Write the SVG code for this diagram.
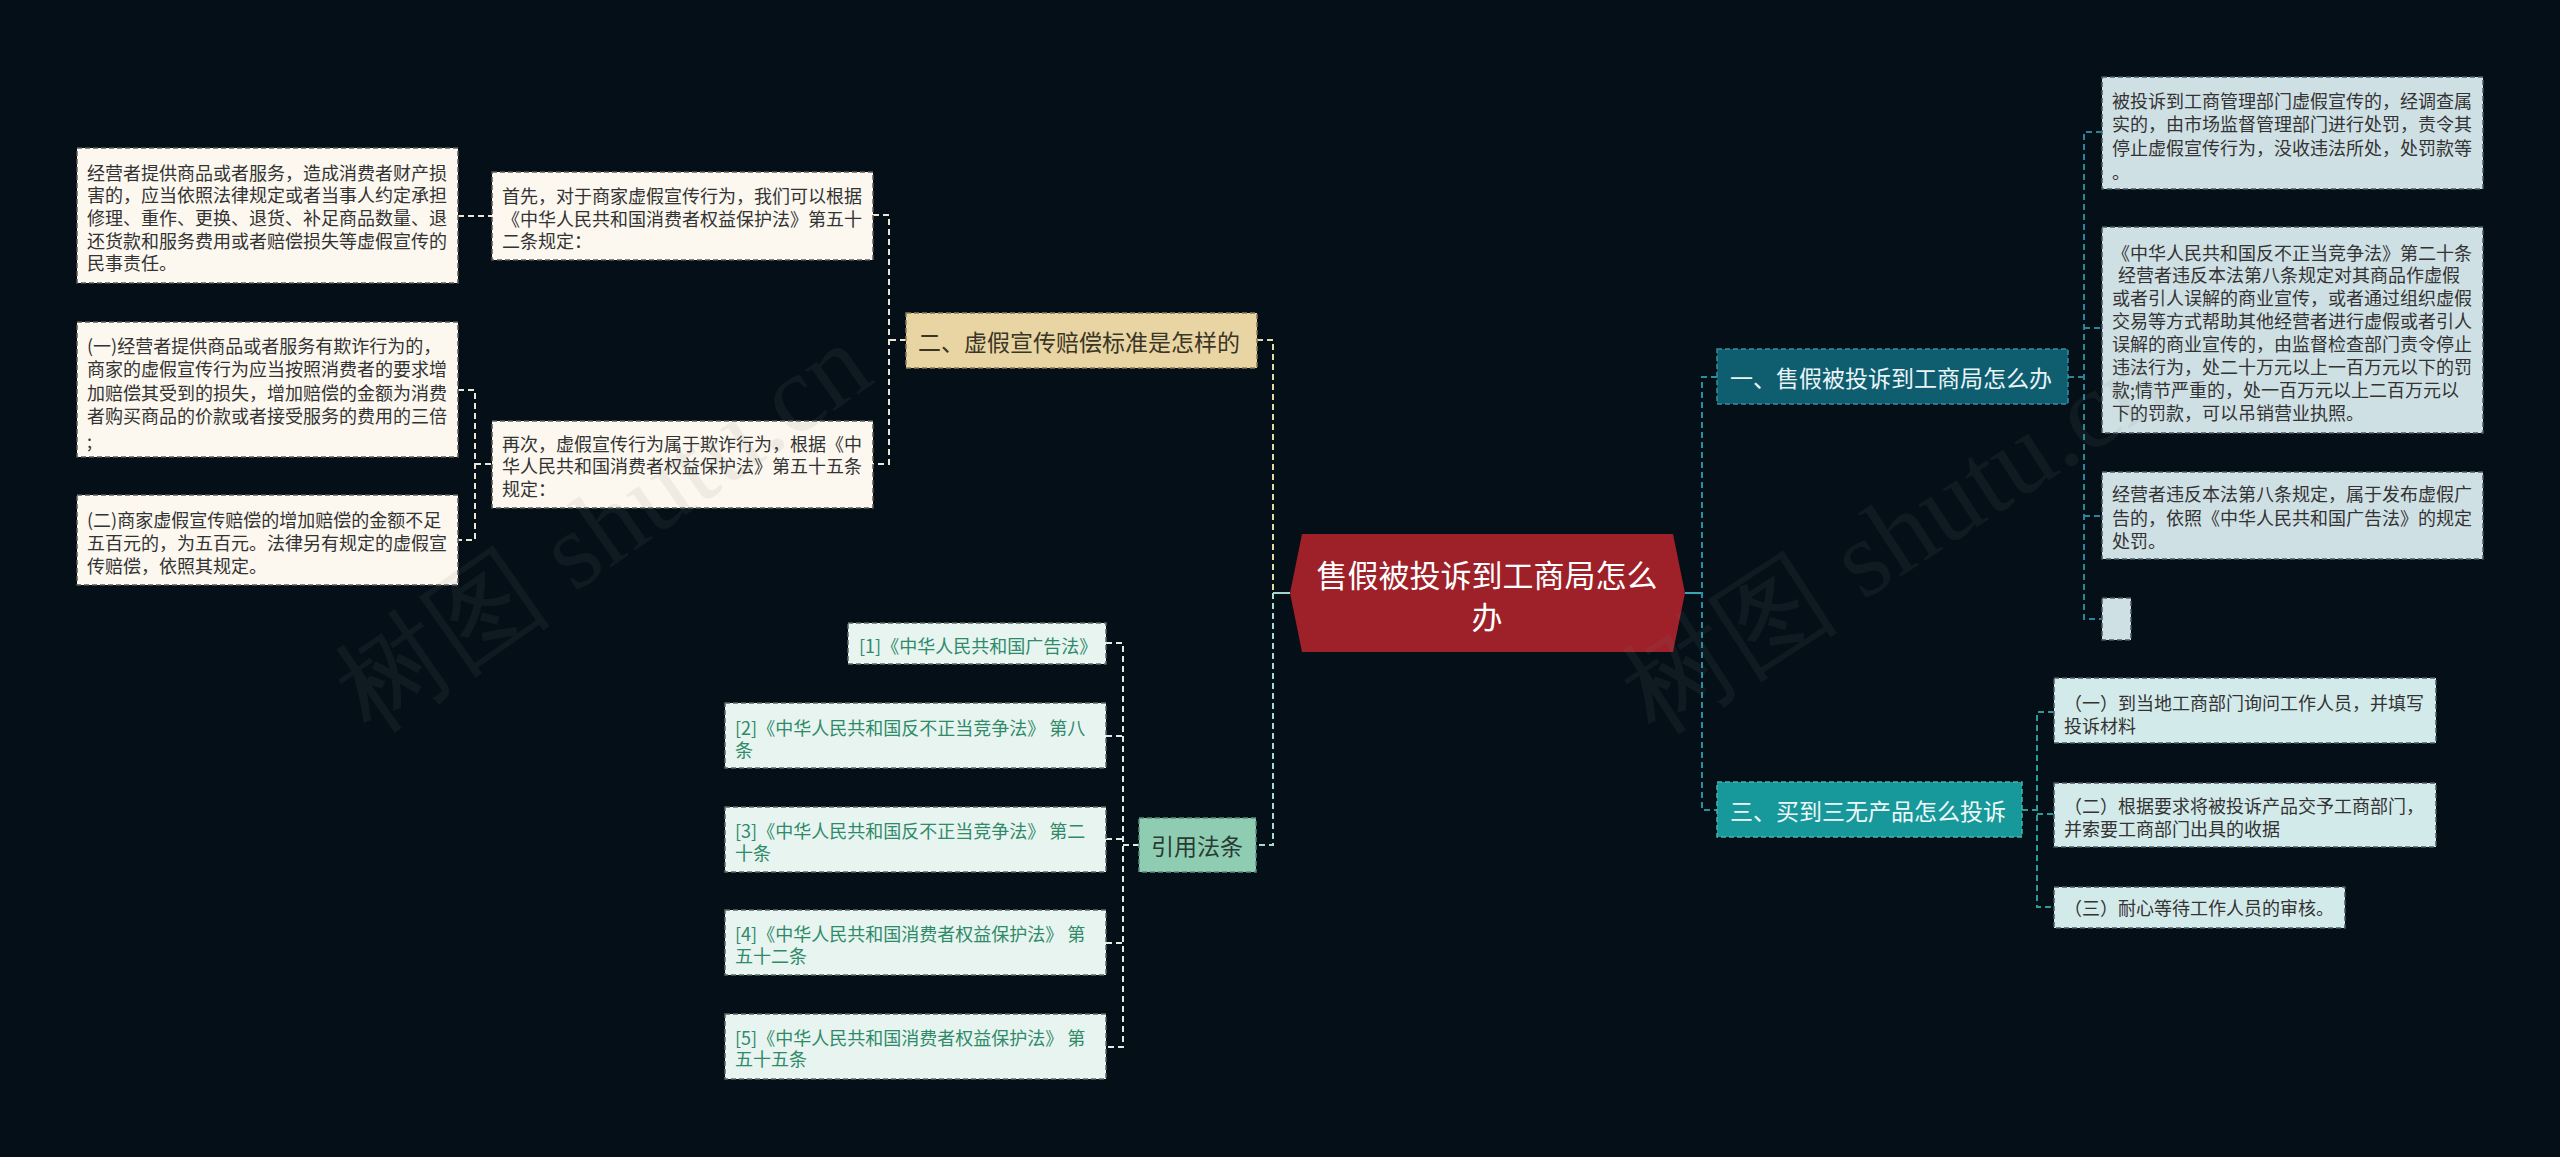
<svg xmlns="http://www.w3.org/2000/svg" width="2560" height="1157" viewBox="0 0 2560 1157">
<style>
text{font-family:"Noto Sans CJK SC","Noto Sans",sans-serif;dominant-baseline:central}
.t{font-size:18px;fill:#333}
.b{font-size:23px}
.cream{fill:#FCF8EF;stroke:#5a5a5a;stroke-width:1.5;stroke-dasharray:5 3}
.blue{fill:#CFE0E4;stroke:#4a5a60;stroke-width:1.5;stroke-dasharray:5 3}
.aqua{fill:#D3EAEA;stroke:#4a5a60;stroke-width:1.5;stroke-dasharray:5 3}
.mint{fill:#E7F4EF;stroke:#5a6a64;stroke-width:1.5;stroke-dasharray:5 3}
.g{fill:#2F8A6A}
.c{fill:none;stroke-width:2;stroke-dasharray:6 4}
.wm{font-family:"Liberation Serif",serif;font-size:110px;fill:#808080;fill-opacity:0.1}
</style>
<rect width="2560" height="1157" fill="#040F17"/>

<g id="connectors">
  <line x1="1273" y1="593" x2="1290" y2="593" stroke="#9ED6CC" stroke-width="2"/>
  <path class="c" stroke="#E8D9A8" d="M1257 340H1273V593"/>
  <path class="c" stroke="#A8DCD0" d="M1273 593V845H1256"/>
  <path class="c" stroke="#EDE6D6" d="M906 340H889M873 215H889V464H873"/>
  <path class="c" stroke="#EDE6D6" d="M458 216H492"/>
  <path class="c" stroke="#EDE6D6" d="M458 390H475V540H458M475 464H492"/>
  <path class="c" stroke="#DCEDE6" d="M1139 845H1123M1106 643H1123V1047H1106M1106 736H1123M1106 839H1123M1106 943H1123"/>
  <line x1="1685" y1="593" x2="1702" y2="593" stroke="#3AA6B0" stroke-width="2"/>
  <path class="c" stroke="#2A8FA0" d="M1717 377H1702V810H1717"/>
  <path class="c" stroke="#2A8596" d="M2068 377H2084M2102 132H2084V619H2102M2084 328H2102M2084 516H2102"/>
  <path class="c" stroke="#2A9A9A" d="M2022 810H2037M2054 712H2037V907H2054M2037 814H2054"/>
</g>

<g id="center">
  <polygon points="1290,593 1302,534 1673,534 1685,593 1673,652 1302,652" fill="#9E2129"/>
  <text x="1487" y="573" text-anchor="middle" font-size="31" fill="#FFFFFF">售假被投诉到工商局怎么</text>
  <text x="1487" y="615" text-anchor="middle" font-size="31" fill="#FFFFFF">办</text>
</g>

<g id="n2">
  <rect x="906" y="313" width="351" height="55" fill="#E9D5A3" stroke="#8a7a55" stroke-width="1.5" stroke-dasharray="5 3"/>
  <text class="b" x="918" y="341" fill="#3a3626">二、虚假宣传赔偿标准是怎样的</text>
</g>

<g id="n2a">
  <rect class="cream" x="492" y="172" width="381" height="88"/>
  <text class="t" x="502" y="195">首先，对于商家虚假宣传行为，我们可以根据</text>
  <text class="t" x="502" y="218">《中华人民共和国消费者权益保护法》第五十</text>
  <text class="t" x="502" y="240">二条规定：</text>
</g>

<g id="n2a1">
  <rect class="cream" x="77" y="148" width="381" height="135"/>
  <text class="t" x="87" y="172">经营者提供商品或者服务，造成消费者财产损</text>
  <text class="t" x="87" y="194">害的，应当依照法律规定或者当事人约定承担</text>
  <text class="t" x="87" y="217">修理、重作、更换、退货、补足商品数量、退</text>
  <text class="t" x="87" y="240">还货款和服务费用或者赔偿损失等虚假宣传的</text>
  <text class="t" x="87" y="262">民事责任。</text>
</g>

<g id="n2b">
  <rect class="cream" x="492" y="421" width="381" height="87"/>
  <text class="t" x="502" y="443">再次，虚假宣传行为属于欺诈行为，根据《中</text>
  <text class="t" x="502" y="465">华人民共和国消费者权益保护法》第五十五条</text>
  <text class="t" x="502" y="488">规定：</text>
</g>

<g id="n2b1">
  <rect class="cream" x="77" y="322" width="381" height="135"/>
  <text class="t" x="87" y="345">(一)经营者提供商品或者服务有欺诈行为的，</text>
  <text class="t" x="87" y="368">商家的虚假宣传行为应当按照消费者的要求增</text>
  <text class="t" x="87" y="392">加赔偿其受到的损失，增加赔偿的金额为消费</text>
  <text class="t" x="87" y="415">者购买商品的价款或者接受服务的费用的三倍</text>
  <text class="t" x="87" y="440">;</text>
</g>

<g id="n2b2">
  <rect class="cream" x="77" y="495" width="381" height="90"/>
  <text class="t" x="87" y="519">(二)商家虚假宣传赔偿的增加赔偿的金额不足</text>
  <text class="t" x="87" y="542">五百元的，为五百元。法律另有规定的虚假宣</text>
  <text class="t" x="87" y="565">传赔偿，依照其规定。</text>
</g>

<g id="nref">
  <rect x="1139" y="818" width="117" height="54" fill="#8FCDB3" stroke="#5a8a78" stroke-width="1.5" stroke-dasharray="5 3"/>
  <text class="b" x="1197" y="845" text-anchor="middle" fill="#2a3a34">引用法条</text>
</g>

<g id="ref1">
  <rect class="mint" x="848" y="623" width="258" height="41"/>
  <text class="t g" x="859" y="645">[1]《中华人民共和国广告法》</text>
</g>
<g id="ref2">
  <rect class="mint" x="725" y="703" width="381" height="65"/>
  <text class="t g" x="735" y="727">[2]《中华人民共和国反不正当竞争法》 第八</text>
  <text class="t g" x="735" y="749">条</text>
</g>
<g id="ref3">
  <rect class="mint" x="725" y="807" width="381" height="65"/>
  <text class="t g" x="735" y="830">[3]《中华人民共和国反不正当竞争法》 第二</text>
  <text class="t g" x="735" y="852">十条</text>
</g>
<g id="ref4">
  <rect class="mint" x="725" y="910" width="381" height="65"/>
  <text class="t g" x="735" y="933">[4]《中华人民共和国消费者权益保护法》 第</text>
  <text class="t g" x="735" y="955">五十二条</text>
</g>
<g id="ref5">
  <rect class="mint" x="725" y="1014" width="381" height="65"/>
  <text class="t g" x="735" y="1037">[5]《中华人民共和国消费者权益保护法》 第</text>
  <text class="t g" x="735" y="1058">五十五条</text>
</g>

<g id="n1">
  <rect x="1717" y="349" width="351" height="55" fill="#0E5E70" stroke="#3a8a9a" stroke-width="1.5" stroke-dasharray="5 3"/>
  <text class="b" x="1730" y="377" fill="#EAF4F6">一、售假被投诉到工商局怎么办</text>
</g>

<g id="n1a">
  <rect class="blue" x="2102" y="77" width="381" height="112"/>
  <text class="t" x="2112" y="100">被投诉到工商管理部门虚假宣传的，经调查属</text>
  <text class="t" x="2112" y="123">实的，由市场监督管理部门进行处罚，责令其</text>
  <text class="t" x="2112" y="147">停止虚假宣传行为，没收违法所处，处罚款等</text>
  <text class="t" x="2112" y="171">。</text>
</g>

<g id="n1b">
  <rect class="blue" x="2102" y="227" width="381" height="206"/>
  <text class="t" x="2112" y="252">《中华人民共和国反不正当竞争法》第二十条</text>
  <text class="t" x="2118" y="274">经营者违反本法第八条规定对其商品作虚假</text>
  <text class="t" x="2112" y="297">或者引人误解的商业宣传，或者通过组织虚假</text>
  <text class="t" x="2112" y="320">交易等方式帮助其他经营者进行虚假或者引人</text>
  <text class="t" x="2112" y="343">误解的商业宣传的，由监督检查部门责令停止</text>
  <text class="t" x="2112" y="366">违法行为，处二十万元以上一百万元以下的罚</text>
  <text class="t" x="2112" y="389">款;情节严重的，处一百万元以上二百万元以</text>
  <text class="t" x="2112" y="412">下的罚款，可以吊销营业执照。</text>
</g>

<g id="n1c">
  <rect class="blue" x="2102" y="472" width="381" height="87"/>
  <text class="t" x="2112" y="493">经营者违反本法第八条规定，属于发布虚假广</text>
  <text class="t" x="2112" y="517">告的，依照《中华人民共和国广告法》的规定</text>
  <text class="t" x="2112" y="540">处罚。</text>
</g>

<g id="n1d">
  <rect class="blue" x="2102" y="598" width="29" height="42"/>
</g>

<g id="n3">
  <rect x="1717" y="782" width="305" height="55" fill="#17989A" stroke="#4ab0b0" stroke-width="1.5" stroke-dasharray="5 3"/>
  <text class="b" x="1730" y="810" fill="#EEF8F8">三、买到三无产品怎么投诉</text>
</g>

<g id="n3a">
  <rect class="aqua" x="2054" y="678" width="382" height="65"/>
  <text class="t" x="2064" y="702">（一）到当地工商部门询问工作人员，并填写</text>
  <text class="t" x="2064" y="725">投诉材料</text>
</g>
<g id="n3b">
  <rect class="aqua" x="2054" y="783" width="382" height="64"/>
  <text class="t" x="2064" y="805">（二）根据要求将被投诉产品交予工商部门，</text>
  <text class="t" x="2064" y="828">并索要工商部门出具的收据</text>
</g>
<g id="n3c">
  <rect class="aqua" x="2054" y="887" width="291" height="41"/>
  <text class="t" x="2064" y="907">（三）耐心等待工作人员的审核。</text>
</g>

<text class="wm" transform="translate(350,705) rotate(-35)">树图 shutu.cn</text>
<text class="wm" transform="translate(1635,705) rotate(-33)">树图 shutu.cn</text>
</svg>
